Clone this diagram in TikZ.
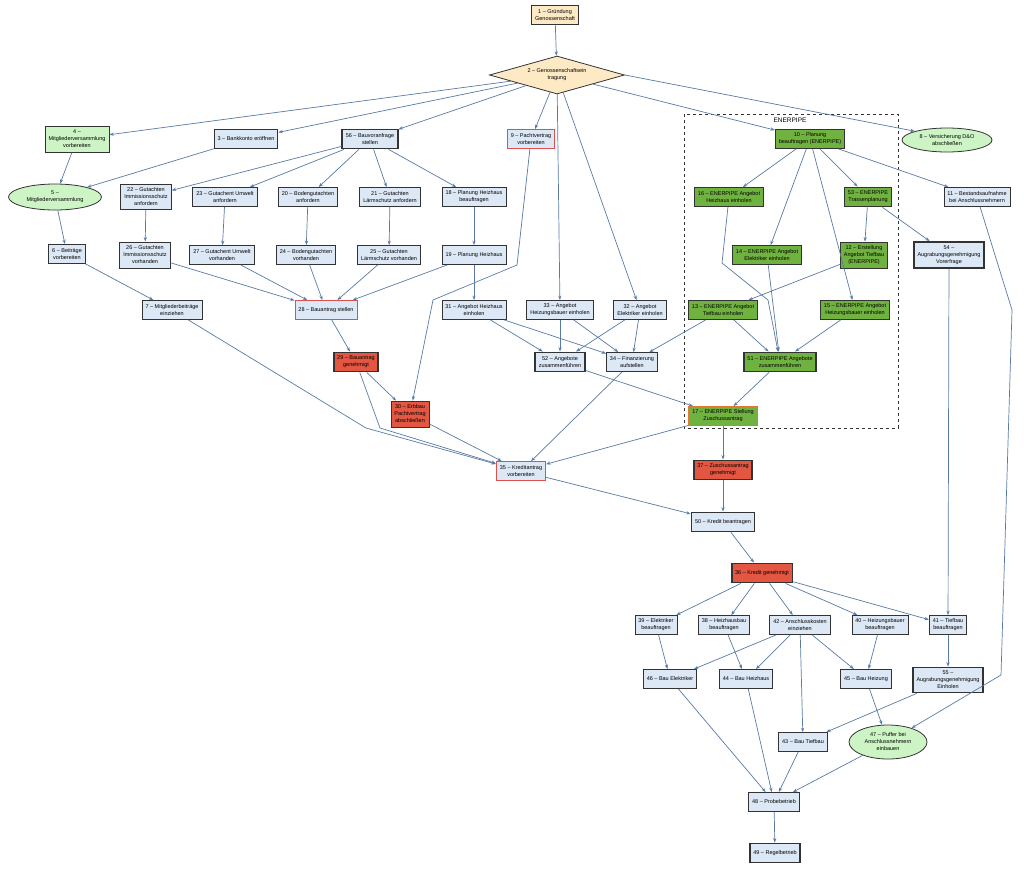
\documentclass[tikz,border=0pt]{standalone}
\usepackage{fontspec}
\setmainfont{Liberation Sans}
\usepackage{tikz}
\usetikzlibrary{arrows.meta,shapes.geometric}

\definecolor{boxblue}{RGB}{221,232,246}
\definecolor{lightgreen}{RGB}{204,244,196}
\definecolor{epgreen}{RGB}{112,178,64}
\definecolor{redfill}{RGB}{226,86,66}
\definecolor{redline}{RGB}{220,80,80}
\definecolor{peach}{RGB}{253,234,196}
\definecolor{edgeblue}{RGB}{88,122,164}
\definecolor{orangeline}{RGB}{226,120,50}

\begin{document}
\begin{tikzpicture}[x=1pt, y=-1pt,
    flow/.style={
      -{Stealth[length=4.5pt,width=3.2pt]},
      line width=0.7pt, draw=edgeblue
    },
    box/.style={
      draw=black!80, fill=boxblue, rectangle, line width=0.8pt,
      minimum height=19pt, inner xsep=3.5pt, inner ysep=2pt,
      align=center, font=\fontsize{5.5}{7}\selectfont
    },
    heavy/.style={line width=1.8pt},
    pact/.style={box, draw=redline},
    ep/.style={box, fill=epgreen},
    stop/.style={box, fill=redfill},
    meet/.style={
      ellipse, draw=black!80, fill=lightgreen, line width=0.8pt, inner sep=0pt,
      align=center, font=\fontsize{5.5}{7}\selectfont
    }
]
  \useasboundingbox (0,0) rectangle (1024,868);

  % ENERPIPE Rahmen
  \draw[dashed, line width=0.8pt, black!80] (684,114) rectangle (898,428);
  \node[font=\fontsize{6.5}{8}\selectfont] (enerpipe) at (790,120) {ENERPIPE};

  % Knoten
  \node[box, fill=peach] (n1) at (555,15) {1 – Gründung\\Genossenschaft};
  \node[diamond, shape aspect=4, draw=black!80, fill=peach, line width=0.8pt, inner sep=0pt, minimum width=135pt, minimum height=38pt, align=center, font=\fontsize{5.5}{7}\selectfont] (n2) at (557,75) {2 – Genossenschaftsein\\tragung};

  \node[box, fill=lightgreen, draw=black!80, minimum height=26pt] (n4) at (77,139) {4 –\\Mitgliederversammlung\\vorbereiten};
  \node[box] (n3) at (246,139) {3 – Bankkonto eröffnen};
  \node[box, heavy] (n56) at (370,139) {56 – Bauvoranfrage\\stellen};
  \node[pact] (n9) at (531,139) {9 – Pachtvertrag\\vorbereiten};
  \node[ep] (n10) at (810,139) {10 – Planung\\beauftragen (ENERPIPE)};
  \node[meet, minimum width=90pt, minimum height=24pt] (n8) at (947,140) {8 – Versicherung D\&O\\abschließen};

  \node[meet, minimum width=93pt, minimum height=26pt] (n5) at (55,197) {5 –\\Mitgliederversammlung};
  \node[box, minimum height=25pt] (n22) at (146,197) {22 – Gutachten\\Immissionsschutz\\anfordern};
  \node[box] (n23) at (225,197) {23 – Gutachent Umwelt\\anfordern};
  \node[box] (n20) at (308,197) {20 – Bodengutachten\\anfordern};
  \node[box] (n21) at (390,197) {21 – Gutachten\\Lärmschutz anfordern};
  \node[box] (n18) at (474,197) {18 – Planung Heizhaus\\beauftragen};
  \node[ep] (n16) at (729,197) {16 – ENERPIPE Angebot\\Heizhaus einholen};
  \node[ep, heavy] (n53) at (868,197) {53 – ENERPIPE\\Trassenplanung};
  \node[box] (n11) at (977,197) {11 – Bestandsaufnahme\\bei Anschlussnehmern};

  \node[box] (n6) at (67,254) {6 – Beiträge\\vorbereiten};
  \node[box, minimum height=26pt] (n26) at (145,255) {26 – Gutachten\\Immissionsschutz\\vorhanden};
  \node[box] (n27) at (222,255) {27 – Gutachent Umwelt\\vorhanden};
  \node[box] (n24) at (306,255) {24 – Bodengutachten\\vorhanden};
  \node[box] (n25) at (389,255) {25 – Gutachten\\Lärmschutz vorhanden};
  \node[box] (n19) at (474,255) {19 – Planung Heizhaus};
  \node[ep] (n14) at (767,255) {14 – ENERPIPE Angebot\\Elektriker einholen};
  \node[ep, minimum height=26pt] (n12) at (864,255) {12 – Erstellung\\Angebot Tiefbau\\(ENERPIPE)};
  \node[box, heavy, minimum height=26pt] (n54) at (949,255) {54 –\\Augrabungsgenehmigung\\Vorerfrage};

  \node[box] (n7) at (172,310) {7 – Mitgliederbeiträge\\einziehen};
  \node[pact] (n28) at (326,310) {28 – Bauantrag stellen};
  \node[box] (n31) at (474,310) {31 – Angebot Heizhaus\\einholen};
  \node[box] (n33) at (560,310) {33 – Angebot\\Heizungsbauer einholen};
  \node[box] (n32) at (640,310) {32 – Angebot\\Elektriker einholen};
  \node[ep] (n13) at (723,310) {13 – ENERPIPE Angebot\\Tiefbau einholen};
  \node[ep] (n15) at (855,310) {15 – ENERPIPE Angebot\\Heizungsbauer einholen};

  \node[stop, heavy] (n29) at (356,362) {29 – Bauantrag\\genehmigt};
  \node[box, heavy] (n52) at (560,362) {52 – Angebote\\zusammenführen};
  \node[box] (n34) at (632,362) {34 – Finanzierung\\aufstellen};
  \node[ep, heavy] (n51) at (780,362) {51 – ENERPIPE Angebote\\zusammenführen};

  \node[stop, minimum height=26pt] (n30) at (410,414) {30 – Erbbau\\Pachtvertrag\\abschließen};
  \node[ep, draw=orangeline] (n17) at (723,416) {17 – ENERPIPE Stellung\\Zuschussantrag};

  \node[pact] (n35) at (521,471) {35 – Kreditantrag\\vorbereiten};
  \node[stop, heavy] (n37) at (723,470) {37 – Zuschussantrag\\genehmigt};
  \node[box, heavy] (n50) at (723,522) {50 – Kredit beantragen};
  \node[stop, heavy] (n36) at (762,573) {36 – Kredit genehmigt};

  \node[box] (n39) at (656,625) {39 – Elektriker\\beauftragen};
  \node[box] (n38) at (724,625) {38 – Heizhausbau\\beauftragen};
  \node[box] (n42) at (800,625) {42 – Anschlusskosten\\einziehen};
  \node[box] (n40) at (880,625) {40 – Heizungsbauer\\beauftragen};
  \node[box] (n41) at (948,625) {41 – Tiefbau\\beauftragen};

  \node[box] (n46) at (670,679) {46 – Bau Elektriker};
  \node[box] (n44) at (746,679) {44 – Bau Heizhaus};
  \node[box] (n45) at (866,679) {45 – Bau Heizung};
  \node[box, heavy, minimum height=25pt] (n55) at (948,680) {55 –\\Augrabungsgenehmigung\\Einholen};

  \node[box] (n43) at (803,742) {43 – Bau Tiefbau};
  \node[meet, minimum width=78pt, minimum height=34pt] (n47) at (888,742) {47 – Puffer bei\\Anschlussnehmern\\einbauen};
  \node[box] (n48) at (774,802) {48 – Probebetrieb};
  \node[box, heavy] (n49) at (775,853) {49 – Regelbetrieb};

  % Pfeile
  \draw[flow] (n1) -- (n2);
  \draw[flow] (n2) -- (n4);
  \draw[flow] (n2) -- (n3);
  \draw[flow] (n2) -- (n56);
  \draw[flow] (n2) -- (n9);
  \draw[flow] (n2) -- (n33);
  \draw[flow] (n2) -- (n32);
  \draw[flow] (n2) -- (n10);
  \draw[flow] (n2.east) -- (n8.north west);

  \draw[flow] (n4) -- (n5);
  \draw[flow] (n3) -- (n5);
  \draw[flow] (n5) -- (n6);
  \draw[flow] (n6) -- (n7);

  \draw[flow] (n56) -- (n22);
  \draw[flow] (n56) -- (n23);
  \draw[flow] (n56) -- (n20);
  \draw[flow] (n56) -- (n21);
  \draw[flow] (n56) -- (n18);
  \draw[flow] (n22) -- (n26);
  \draw[flow] (n23) -- (n27);
  \draw[flow] (n20) -- (n24);
  \draw[flow] (n21) -- (n25);
  \draw[flow] (n18) -- (n19);
  \draw[flow] (n26) -- (n28);
  \draw[flow] (n27) -- (n28);
  \draw[flow] (n24) -- (n28);
  \draw[flow] (n25) -- (n28);
  \draw[flow] (n19) -- (n28);
  \draw[flow] (n19) -- (n31);

  \draw[flow] (n28) -- (n29);
  \draw[flow] (n29) -- (n30);
  \draw[flow] (n9) -- (517,265) -- (433,300) -- (n30);
  \draw[flow] (n7) -- (366,428) -- (n35);
  \draw[flow] (n29) -- (380,428) -- (n35);
  \draw[flow] (n30) -- (n35);

  \draw[flow] (n31) -- (n52);
  \draw[flow] (n31) -- (n34);
  \draw[flow] (n33) -- (n52);
  \draw[flow] (n33) -- (n34);
  \draw[flow] (n32) -- (n52);
  \draw[flow] (n32) -- (n34);
  \draw[flow] (n13) -- (n34);
  \draw[flow] (n13) -- (n51);

  \draw[flow] (n10) -- (n16);
  \draw[flow] (n10) -- (n14);
  \draw[flow] (n10) -- (n53);
  \draw[flow] (n10) -- (n15);
  \draw[flow] (n10) -- (n11);
  \draw[flow] (n16) -- (722,263) -- (768,300) -- (n51);
  \draw[flow] (n14) -- (n51);
  \draw[flow] (n15) -- (n51);
  \draw[flow] (n53) -- (n12);
  \draw[flow] (n53) -- (n54);
  \draw[flow] (n12) -- (n13);

  \draw[flow] (n51) -- (n17);
  \draw[flow] (n52) -- (n17);
  \draw[flow] (n34) -- (n35);
  \draw[flow] (n17) -- (n35);
  \draw[flow] (n17) -- (n37);
  \draw[flow] (n37) -- (n50);
  \draw[flow] (n35) -- (n50);
  \draw[flow] (n50) -- (n36);

  \draw[flow] (n36) -- (n39);
  \draw[flow] (n36) -- (n38);
  \draw[flow] (n36) -- (n42);
  \draw[flow] (n36) -- (n40);
  \draw[flow] (n36) -- (n41);
  \draw[flow] (n54) -- (n41);
  \draw[flow] (n11) -- (1012,310) -- (1001,675) -- (n47);

  \draw[flow] (n39) -- (n46);
  \draw[flow] (n38) -- (n44);
  \draw[flow] (n42) -- (n46);
  \draw[flow] (n42) -- (n44);
  \draw[flow] (n42) -- (n45);
  \draw[flow] (n42) -- (n43);
  \draw[flow] (n40) -- (n45);
  \draw[flow] (n41) -- (n55);
  \draw[flow] (n55) -- (n43);
  \draw[flow] (n45) -- (n47);

  \draw[flow] (n46) -- (n48);
  \draw[flow] (n44) -- (n48);
  \draw[flow] (n43) -- (n48);
  \draw[flow] (n47) -- (n48);
  \draw[flow] (n48) -- (n49);
\end{tikzpicture}
\end{document}
